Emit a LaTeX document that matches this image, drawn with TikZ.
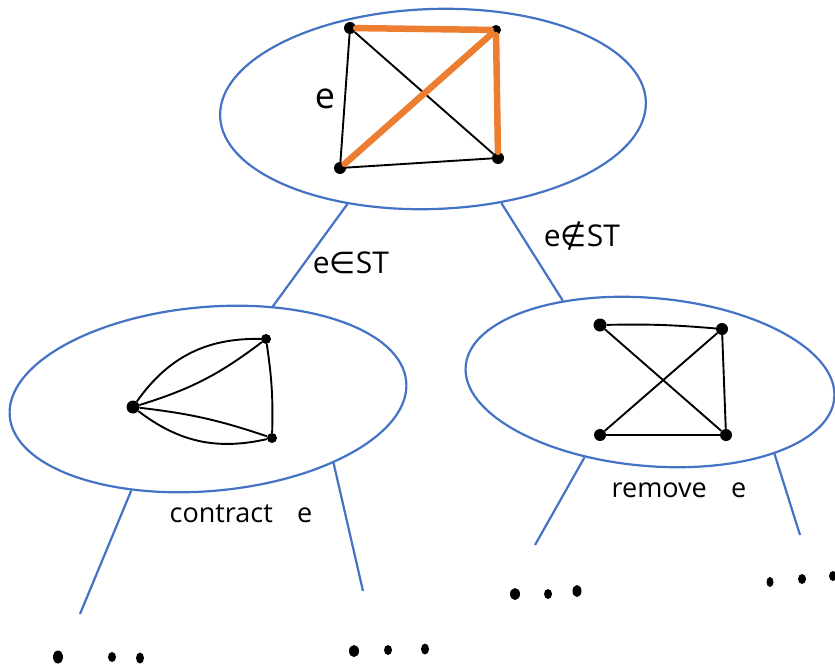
\documentclass[tikz,border=0pt]{standalone}
\usepackage{fontspec}
\setmainfont{Open Sans}
\newfontfamily\symfont{DejaVu Sans}
\usetikzlibrary{shapes.geometric}
\definecolor{treeblue}{HTML}{4472C4}
\definecolor{treeorange}{HTML}{ED7D31}

\begin{document}
\begin{tikzpicture}[x=1pt, y=-1pt,
    state/.style={ellipse, draw=treeblue, line width=2.2pt, inner sep=0pt},
    vertex/.style={circle, fill=black, inner sep=0pt, minimum size=11pt},
    blob/.style={ellipse, fill=black, inner sep=0pt,
        minimum width=7pt, minimum height=9pt},
    edge/.style={line width=1.9pt, -},
    tree/.style={treeblue, line width=2.2pt, -},
    chosen/.style={treeorange, line width=6.5pt, line cap=round},
    note/.style={font=\fontsize{27}{30}\selectfont, inner sep=0pt}
]
    \useasboundingbox (0,0) rectangle (835,669);
    \node[state, minimum width=426pt, minimum height=200pt, rotate=2] (root) at (433,109) {};
    \node[state, minimum width=398pt, minimum height=184pt, rotate=5] (contr) at (208,399) {};
    \node[state, minimum width=370pt, minimum height=168pt, rotate=-5] (remv) at (650,382) {};
    \node[vertex, minimum size=12pt] (p1) at (350,28) {};
    \node[vertex, minimum size=10pt] (p2) at (496,30) {};
    \node[vertex, minimum size=12pt] (p3) at (340,168) {};
    \node[vertex, minimum size=12pt] (p4) at (498,158) {};
    \draw[edge] (p1) -- (p3);
    \draw[edge] (p1) -- (p4);
    \draw[edge] (p3) -- (p4);
    \draw[chosen] (p1) -- (p2);
    \draw[chosen] (p2) -- (p3);
    \draw[chosen] (p2) -- (p4);
    \node[note, font=\fontsize{36}{40}\selectfont] (elbl) at (325,99) {e};
    \node[vertex, minimum size=13pt] (q1) at (133,407) {};
    \node[vertex, minimum size=10pt] (q2) at (266,339) {};
    \node[vertex, minimum size=10pt] (q3) at (272,438) {};
    \draw[edge] (q1) to[bend left=28] (q2);
    \draw[edge] (q1) to[bend right=10] (q2);
    \draw[edge] (q1) to[bend left=6] (q3);
    \draw[edge] (q1) to[bend right=25] (q3);
    \draw[edge] (q2) to[bend left=5] (q3);
    \node[vertex, minimum size=13pt] (r1) at (600,325) {};
    \node[vertex, minimum size=12pt] (r2) at (722,329) {};
    \node[vertex, minimum size=12pt] (r3) at (600,435) {};
    \node[vertex, minimum size=12pt] (r4) at (726,435) {};
    \draw[edge] (r1) to[bend left=3] (r2);
    \draw[edge] (r1) -- (r4);
    \draw[edge] (r2) -- (r3);
    \draw[edge] (r2) -- (r4);
    \draw[edge] (r3) -- (r4);
    \draw[tree] (root.226) -- (contr.50);
    \draw[tree] (root.304) -- (remv.142);
    \node[note, font=\fontsize{30}{32}\selectfont] (inst) at (351,263) {e{\symfont ∈}ST};
    \node[note, font=\fontsize{30}{32}\selectfont] (notst) at (582,236) {e{\symfont ∉}ST};
    \coordinate (c1) at (80,614);
    \coordinate (c2) at (363,591);
    \coordinate (c3) at (535,545);
    \coordinate (c4) at (800,535);
    \draw[tree] (contr.225) -- (c1);
    \draw[tree] (contr.328) -- (c2);
    \draw[tree] (remv.234) -- (c3);
    \draw[tree] (remv.335) -- (c4);
    \node[note] (contrlbl) at (241,514) {contract\hspace{0.9em}e};
    \node[note] (remvlbl) at (679,490) {remove\hspace{0.9em}e};
    \node[blob, minimum width=10pt, minimum height=13pt] (d1) at (58,657) {};
    \node[blob, minimum width=8pt, minimum height=10pt] (d2) at (112,657) {};
    \node[blob, minimum width=8pt, minimum height=11pt] (d3) at (140,658) {};
    \node[blob, minimum width=10pt, minimum height=12pt] (d4) at (354,651) {};
    \node[blob, minimum width=8pt, minimum height=10pt] (d5) at (388,650) {};
    \node[blob, minimum width=8pt, minimum height=11pt] (d6) at (425,649) {};
    \node[blob, minimum width=10pt, minimum height=12pt] (d7) at (515,594) {};
    \node[blob, minimum width=8pt, minimum height=10pt] (d8) at (548,594) {};
    \node[blob, minimum width=9pt, minimum height=12pt] (d9) at (577,591) {};
    \node[blob, minimum width=7pt, minimum height=10pt] (d10) at (770,582) {};
    \node[blob, minimum width=8pt, minimum height=10pt] (d11) at (802,579) {};
    \node[blob, minimum width=8pt, minimum height=10pt] (d12) at (833,576) {};
\end{tikzpicture}
\end{document}
